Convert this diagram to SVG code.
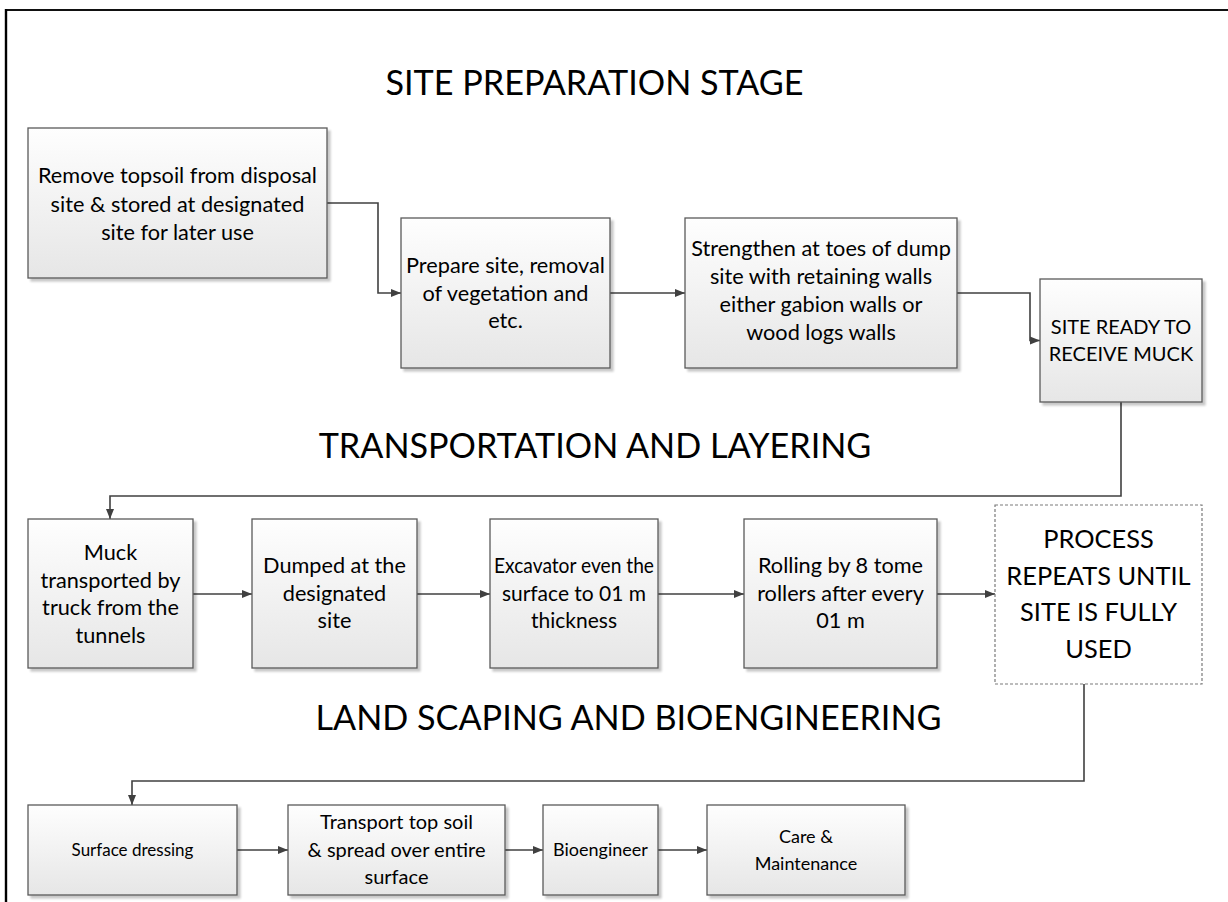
<svg xmlns="http://www.w3.org/2000/svg" width="1228" height="902" viewBox="0 0 1228 902">
<style>
text{font-family:Lato,"Liberation Sans",sans-serif;fill:#000;text-anchor:middle}
.t{font-size:21.7px}
.h{font-size:34.2px}
.p{font-size:25.4px}
.box{fill:url(#g);stroke:#5a5a5a;stroke-width:1.3;filter:url(#sh)}
.dbox{fill:#fff;stroke:#7a7a7a;stroke-width:1.2;stroke-dasharray:3 2}
.c{fill:none;stroke:#404040;stroke-width:1.6;marker-end:url(#a)}
</style>
<defs>
<linearGradient id="g" x1="0" y1="0" x2="0" y2="1">
<stop offset="0" stop-color="#fefefe"/>
<stop offset="1" stop-color="#e6e6e6"/>
</linearGradient>
<filter id="sh" x="-5%" y="-5%" width="115%" height="115%">
<feGaussianBlur in="SourceAlpha" stdDeviation="1.2"/>
<feOffset dx="2.5" dy="2.5" result="b"/>
<feComponentTransfer><feFuncA type="linear" slope="0.22"/></feComponentTransfer>
<feMerge><feMergeNode/><feMergeNode in="SourceGraphic"/></feMerge>
</filter>
<marker id="a" markerUnits="userSpaceOnUse" markerWidth="11" markerHeight="9" refX="10" refY="4.5" orient="auto">
<path d="M0,0.5 L10,4.5 L0,8.5 z" fill="#404040"/>
</marker>
</defs>
<g id="frame">
<line x1="5" y1="10" x2="1228" y2="10" stroke="#111" stroke-width="2"/>
<line x1="6" y1="9" x2="6" y2="902" stroke="#000" stroke-width="2.4"/>
</g>
<g id="titles">
<text class="h" x="594.5" y="95">SITE PREPARATION STAGE</text>
<text class="h" x="595" y="458">TRANSPORTATION AND LAYERING</text>
<text class="h" x="628.5" y="730">LAND SCAPING AND BIOENGINEERING</text>
</g>
<g id="connectors">
<path class="c" d="M327,203 H378 V293 H401"/>
<path class="c" d="M610,293 H685"/>
<path class="c" d="M957,293 H1030 V340.5 H1040"/>
<path class="c" d="M1121,402 V496 H110 V519"/>
<path class="c" d="M193,594 H252"/>
<path class="c" d="M417,594 H490"/>
<path class="c" d="M658,594 H744"/>
<path class="c" d="M937,594 H995"/>
<path class="c" d="M1084,684 V781 H132 V805"/>
<path class="c" d="M237,850 H288"/>
<path class="c" d="M505,850 H543"/>
<path class="c" d="M658,850 H707"/>
</g>
<g id="n1"><rect class="box" x="28" y="128" width="299" height="150"/>
<text class="t" x="177.5"><tspan x="177.5" y="183">Remove topsoil from disposal</tspan><tspan x="177.5" y="211.5">site &amp; stored at designated</tspan><tspan x="177.5" y="240">site for later use</tspan></text></g>
<g id="n2"><rect class="box" x="401" y="218" width="209" height="150"/>
<text class="t" x="505.5"><tspan x="505.5" y="273">Prepare site, removal</tspan><tspan x="505.5" y="300.5">of vegetation and</tspan><tspan x="505.5" y="328">etc.</tspan></text></g>
<g id="n3"><rect class="box" x="685" y="218" width="272" height="150"/>
<text class="t" x="821"><tspan x="821" y="256">Strengthen at toes of dump</tspan><tspan x="821" y="284">site with retaining walls</tspan><tspan x="821" y="312">either gabion walls or</tspan><tspan x="821" y="340">wood logs walls</tspan></text></g>
<g id="n4"><rect class="box" x="1040" y="279" width="162" height="123"/>
<text class="t" style="font-size:20px" x="1121"><tspan x="1121" y="334">SITE READY TO</tspan><tspan x="1121" y="361">RECEIVE MUCK</tspan></text></g>
<g id="n5"><rect class="box" x="28" y="519" width="165" height="149"/>
<text class="t" x="110.5"><tspan x="110.5" y="560">Muck</tspan><tspan x="110.5" y="587.5">transported by</tspan><tspan x="110.5" y="615">truck from the</tspan><tspan x="110.5" y="642.5">tunnels</tspan></text></g>
<g id="n6"><rect class="box" x="252" y="519" width="165" height="149"/>
<text class="t" x="334.5"><tspan x="334.5" y="573">Dumped at the</tspan><tspan x="334.5" y="600.5">designated</tspan><tspan x="334.5" y="628">site</tspan></text></g>
<g id="n7"><rect class="box" x="490" y="519" width="168" height="149"/>
<text class="t" style="font-size:21px" x="574"><tspan x="494" y="573" textLength="160" lengthAdjust="spacingAndGlyphs" style="text-anchor:start">Excavator even the</tspan><tspan x="574" y="600.5">surface to 01 m</tspan><tspan x="574" y="628">thickness</tspan></text></g>
<g id="n8"><rect class="box" x="744" y="519" width="193" height="149"/>
<text class="t" x="840.5"><tspan x="840.5" y="573">Rolling by 8 tome</tspan><tspan x="840.5" y="600.5">rollers after every</tspan><tspan x="840.5" y="628">01 m</tspan></text></g>
<g id="n9"><rect class="dbox" x="995" y="505" width="207" height="179"/>
<text class="p" x="1098.5"><tspan x="1098.5" y="548">PROCESS</tspan><tspan x="1098.5" y="584.5">REPEATS UNTIL</tspan><tspan x="1098.5" y="621">SITE IS FULLY</tspan><tspan x="1098.5" y="657.5">USED</tspan></text></g>
<g id="n10"><rect class="box" x="28" y="805" width="209" height="90"/>
<text class="t" style="font-size:17px" x="132.5" y="856">Surface dressing</text></g>
<g id="n11"><rect class="box" x="288" y="805" width="217" height="90"/>
<text class="t" style="font-size:20px" x="396.5"><tspan x="396.5" y="829">Transport top soil</tspan><tspan x="396.5" y="856.5">&amp; spread over entire</tspan><tspan x="396.5" y="884">surface</tspan></text></g>
<g id="n12"><rect class="box" x="543" y="805" width="115" height="90"/>
<text class="t" style="font-size:18px" x="600.5" y="856">Bioengineer</text></g>
<g id="n13"><rect class="box" x="707" y="805" width="198" height="90"/>
<text class="t" style="font-size:18px" x="806"><tspan x="806" y="843">Care &amp;</tspan><tspan x="806" y="870">Maintenance</tspan></text></g>
</svg>
